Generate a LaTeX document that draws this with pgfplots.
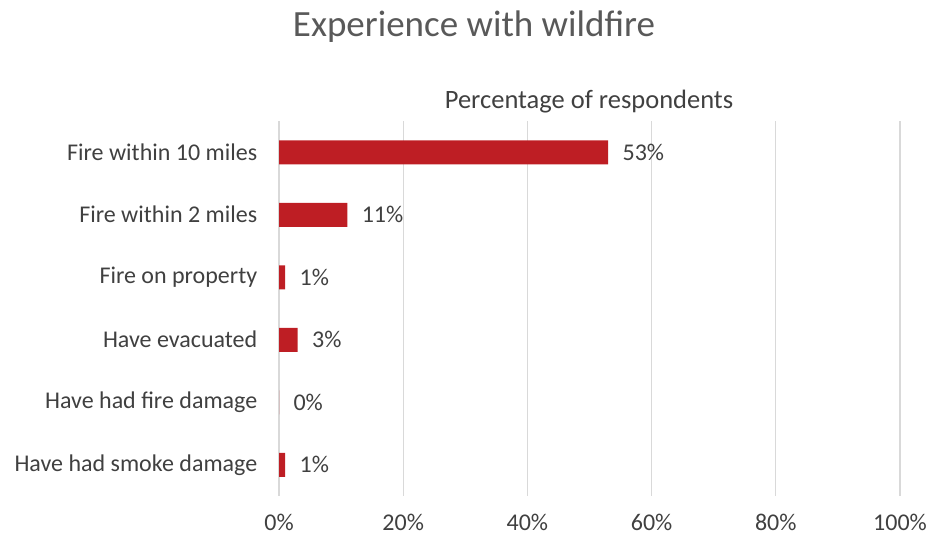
\documentclass[border=0pt]{standalone}
\usepackage{pgfplots}
\pgfplotsset{compat=1.18}
\usepackage{fontspec}
\setmainfont{Carlito}
\definecolor{barred}{HTML}{BE1E24}
\definecolor{ttl}{HTML}{595959}
\definecolor{txt}{HTML}{404040}
\definecolor{gridc}{HTML}{D9D9D9}
\begin{document}
\begin{tikzpicture}
\path[use as bounding box] (0,0) rectangle (926bp,538bp);
\begin{axis}[
  at={(279bp,42bp)}, anchor=south west,
  scale only axis, width=621bp, height=375bp,
  xbar, bar width=24bp,
  xmin=0, xmax=100, ymin=-0.5, ymax=5.5, y dir=reverse,
  xtick={0,20,...,100}, ytick={0,...,5},
  yticklabels={Fire within 10 miles, Fire within 2 miles, Fire on property, Have evacuated, Have had fire damage, Have had smoke damage},
  xticklabel={\pgfmathprintnumber{\tick}\%},
  /pgf/number format/assume math mode=true,
  xmajorgrids, major grid style={draw=gridc, line width=1.2bp},
  axis line style={draw=none}, tick style={draw=none},
  ticklabel style={font=\fontsize{24bp}{28bp}\selectfont, text=txt},
  yticklabel style={xshift=-14bp},
  xticklabel style={yshift=-15bp},
  nodes near coords={\pgfmathprintnumber{\pgfplotspointmeta}\%},
  nodes near coords style={font=\fontsize{24bp}{28bp}\selectfont, text=txt, anchor=west, xshift=11bp},
]
\addplot[fill=barred, draw=none] coordinates {(53,0) (11,1) (1,2) (3,3) (0,4) (1,5)};
\end{axis}
\node[font=\fontsize{37bp}{42bp}\selectfont, text=ttl] at (474bp,511bp) {Experience with wildfire};
\node[font=\fontsize{26.5bp}{30bp}\selectfont, text=txt] at (589bp,436bp) {Percentage of respondents};
\end{tikzpicture}
\end{document}
